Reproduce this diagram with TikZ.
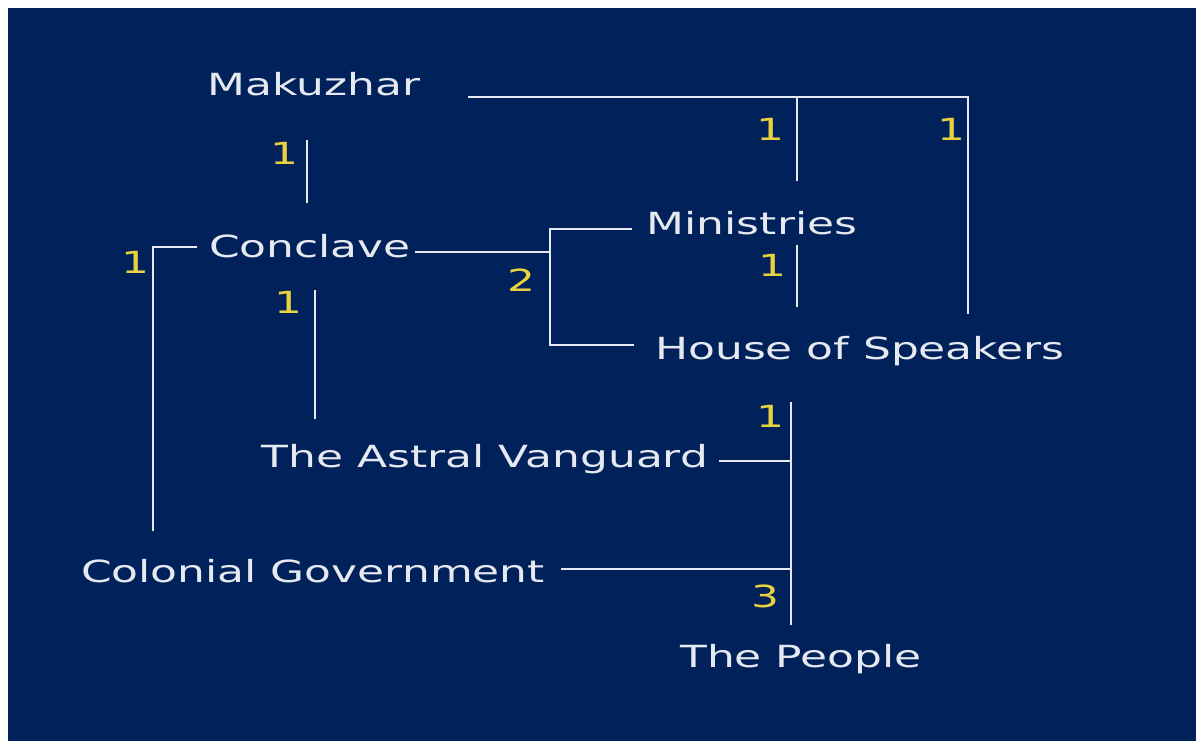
\documentclass[tikz,border=0pt]{standalone}
\usepackage{fontspec}
\setmainfont{DejaVu Sans}
\definecolor{bg}{HTML}{00215A}
\definecolor{lbl}{HTML}{E8D240}
\definecolor{ln}{HTML}{E6E9F0}
\tikzset{
  org/.style={anchor=base, inner sep=0pt, text=ln, font=\fontsize{30.5}{36}\selectfont},
  num/.style={anchor=base, inner sep=0pt, text=lbl, font=\fontsize{30.5}{36}\selectfont},
  link/.style={draw=ln, line width=1.9pt},
}
\newcommand{\wide}[1]{\scalebox{1.44}[1]{#1}}
\begin{document}
\begin{tikzpicture}[x=1pt,y=-1pt]
\useasboundingbox (0,0) rectangle (1196,740);
\fill[white] (-10,-10) rectangle (1210,760);
\fill[bg] (8,8) rectangle (1210,760);

% organisations
\node[org] (mak) at (314,95) {\wide{Makuzhar}};
\node[org] (con) at (310,257) {\wide{Conclave}};
\node[org] (min) at (752,234) {\wide{Ministries}};
\node[org] (hos) at (860,359) {\wide{House of Speakers}};
\node[org] (ast) at (485,467) {\wide{The Astral Vanguard}};
\node[org] (col) at (313,582) {\wide{Colonial Government}};
\node[org] (peo) at (801,667) {\wide{The People}};

% numbers
\node[num] (n1) at (284,164) {\wide{1}};
\node[num] (n2) at (770,140) {\wide{1}};
\node[num] (n3) at (951,140) {\wide{1}};
\node[num] (n4) at (135,273) {\wide{1}};
\node[num] (n5) at (521,291) {\wide{2}};
\node[num] (n6) at (772,276) {\wide{1}};
\node[num] (n7) at (288,313) {\wide{1}};
\node[num] (n8) at (770,427) {\wide{1}};
\node[num] (n9) at (765,607) {\wide{3}};

% connector points
\coordinate (mA) at (468,97);
\coordinate (mB) at (797,97);
\coordinate (mC) at (968,97);
\coordinate (mD) at (797,181);
\coordinate (mE) at (968,314);
\coordinate (mc1) at (307,140);
\coordinate (mc2) at (307,203);
\coordinate (cl1) at (197,247);
\coordinate (cl2) at (153,247);
\coordinate (cl3) at (153,531);
\coordinate (cr1) at (415,252);
\coordinate (cr2) at (550,252);
\coordinate (bt1) at (632,229);
\coordinate (bt2) at (550,229);
\coordinate (bb1) at (550,345);
\coordinate (bb2) at (634,345);
\coordinate (mh1) at (797,245);
\coordinate (mh2) at (797,307);
\coordinate (ca1) at (315,290);
\coordinate (ca2) at (315,419);
\coordinate (p1) at (791,402);
\coordinate (p2) at (791,625);
\coordinate (av1) at (719,461);
\coordinate (av2) at (791,461);
\coordinate (cg1) at (561,569);
\coordinate (cg2) at (791,569);

% connectors
\draw[link] (mA) -- (mC) -- (mE);
\draw[link] (mB) -- (mD);
\draw[link] (mc1) -- (mc2);
\draw[link] (cl1) -- (cl2) -- (cl3);
\draw[link] (cr1) -- (cr2);
\draw[link] (bt1) -- (bt2) -- (bb1) -- (bb2);
\draw[link] (mh1) -- (mh2);
\draw[link] (ca1) -- (ca2);
\draw[link] (p1) -- (p2);
\draw[link] (av1) -- (av2);
\draw[link] (cg1) -- (cg2);
\end{tikzpicture}
\end{document}
